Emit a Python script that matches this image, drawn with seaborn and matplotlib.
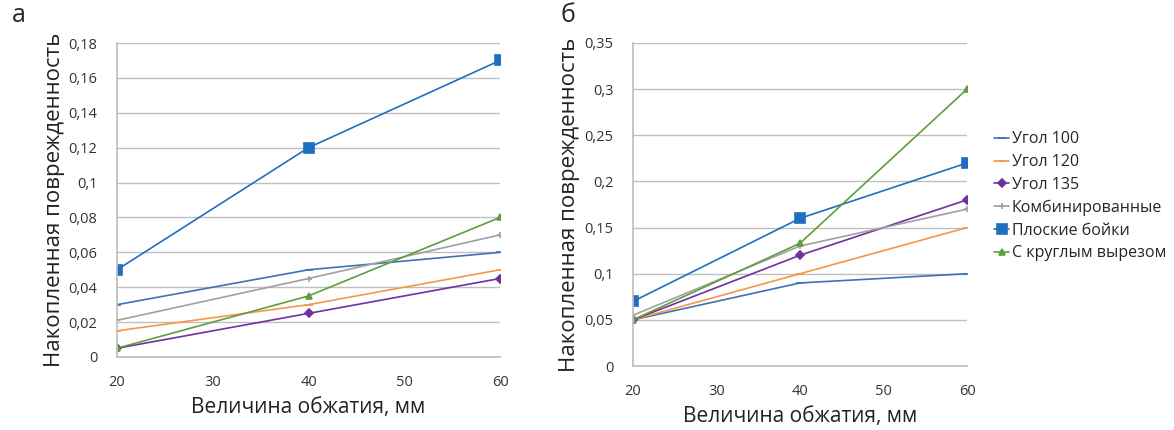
import numpy as np
import pandas as pd
import matplotlib
matplotlib.use("Agg")
import matplotlib.pyplot as plt
import seaborn as sns

x_vals = [20, 40, 60]
series_names = ["Угол 100", "Угол 120", "Угол 135", "Комбинированные", "Плоские бойки", "С круглым вырезом"]

a_ugol100 = [0.03, 0.05, 0.06]
a_ugol120 = [0.015, 0.03, 0.05]
a_ugol135 = [0.005, 0.025, 0.045]
a_komb = [0.021, 0.045, 0.07]
a_plosk = [0.05, 0.12, 0.17]
a_krug = [0.005, 0.035, 0.08]

b_ugol100 = [0.05, 0.09, 0.10]
b_ugol120 = [0.05, 0.10, 0.15]
b_ugol135 = [0.05, 0.12, 0.18]
b_komb = [0.055, 0.13, 0.17]
b_plosk = [0.07, 0.16, 0.22]
b_krug = [0.05, 0.133, 0.30]

a_ticks = [0, 0.02, 0.04, 0.06, 0.08, 0.1, 0.12, 0.14, 0.16, 0.18]
a_ticklabels = ["0", "0,02", "0,04", "0,06", "0,08", "0,1", "0,12", "0,14", "0,16", "0,18"]
b_ticks = [0, 0.05, 0.1, 0.15, 0.2, 0.25, 0.3, 0.35]
b_ticklabels = ["0", "0,05", "0,1", "0,15", "0,2", "0,25", "0,3", "0,35"]
x_ticks = [20, 30, 40, 50, 60]

sns.set_theme(style="white")
plt.rcParams['font.family'] = ['Open Sans', 'DejaVu Sans']

colors = ["#3F72B5", "#F79646", "#7030A0", "#A0A0A0", "#1F6FBF", "#5E9E3E"]
markers = ["_", "_", "D", "+", "s", "^"]
msizes = [6, 6, 4.5, 5, 6.5, 5]

def long_df(vals):
    rows = []
    for name, v in zip(series_names, vals):
        for xx, yy in zip(x_vals, v):
            rows.append({"x": xx, "y": yy, "s": name})
    return pd.DataFrame(rows)

df_a = long_df([a_ugol100, a_ugol120, a_ugol135, a_komb, a_plosk, a_krug])
df_b = long_df([b_ugol100, b_ugol120, b_ugol135, b_komb, b_plosk, b_krug])

fig = plt.figure(figsize=(11.74, 4.30), dpi=100)
ax1 = fig.add_axes([117/1174, 1-357/430, (500-117)/1174, (357-43)/430])
ax2 = fig.add_axes([633/1174, 1-366/430, (967-633)/1174, (366-43)/430])

def draw(ax, df, ticks, ymax, ticklabels):
    for i, name in enumerate(series_names):
        sub = df[df["s"] == name]
        sns.lineplot(data=sub, x="x", y="y", ax=ax, color=colors[i], marker=markers[i],
                     markersize=msizes[i], markeredgecolor=colors[i], markeredgewidth=1.2,
                     linewidth=1.2, label=name, legend=False)
    ax.set_xlim(20, 60)
    ax.set_ylim(0, ymax)
    ax.set_yticks(ticks)
    ax.set_yticklabels(ticklabels, fontsize=10.5, color="#333333")
    ax.set_xticks(x_ticks)
    ax.set_xticklabels([str(t) for t in x_ticks], fontsize=10.5, color="#333333")
    ax.yaxis.grid(True, color="#BFBFBF", linewidth=1)
    ax.xaxis.grid(False)
    for s in ["top", "right"]:
        ax.spines[s].set_visible(False)
    ax.spines["left"].set_color("#BFBFBF")
    ax.spines["bottom"].set_color("#BFBFBF")
    ax.tick_params(axis="x", length=4, color="#BFBFBF", direction="out", pad=9)
    ax.tick_params(axis="y", length=0, pad=14)
    ax.set_xlabel("Величина обжатия, мм", fontsize=15, color="#222222", labelpad=5)
    ax.set_ylabel("Накопленная поврежденность", fontsize=16, color="#222222", labelpad=3)

draw(ax1, df_a, a_ticks, 0.18, a_ticklabels)
draw(ax2, df_b, b_ticks, 0.35, b_ticklabels)

handles, labels = ax2.get_legend_handles_labels()
fig.legend(handles, labels, loc="upper left", bbox_to_anchor=(988/1174, 1-125/430),
           frameon=False, fontsize=11.5, handlelength=0.9, handletextpad=0.2,
           labelspacing=0.42, borderaxespad=0)

fig.text(12/1174, 1-15/430, "а", fontsize=18, va="center", ha="left")
fig.text(560/1174, 1-15/430, "б", fontsize=18, va="center", ha="left")

fig.savefig("out.png", dpi=100)
